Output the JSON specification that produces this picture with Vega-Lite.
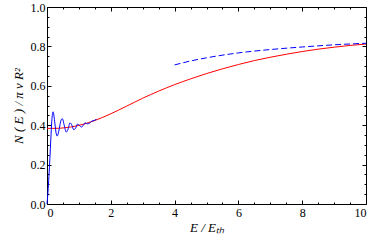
{
  "$schema": "https://vega.github.io/schema/vega-lite/v6.json",
  "width": 319,
  "height": 197,
  "autosize": {"type": "none"},
  "padding": {"left": 47, "top": 7, "right": 8, "bottom": 39},
  "background": "white",
  "config": {
    "view": {"stroke": "black", "strokeWidth": 1},
    "font": "Liberation Serif",
    "axis": {
      "domain": false,
      "grid": false,
      "tickColor": "black",
      "labelColor": "black",
      "labelFont": "Liberation Serif",
      "labelFontSize": 12,
      "titleFont": "Liberation Serif",
      "titleFontStyle": "italic",
      "titleFontWeight": "normal",
      "titleColor": "black",
      "titleFontSize": 13
    }
  },
  "datasets": {
    "red": [
      {"x": 0, "y": 0.384}, {"x": 0.25, "y": 0.384}, {"x": 0.5, "y": 0.386}, {"x": 0.75, "y": 0.391},
      {"x": 1, "y": 0.399}, {"x": 1.25, "y": 0.41}, {"x": 1.5, "y": 0.424}, {"x": 1.75, "y": 0.44},
      {"x": 2, "y": 0.458}, {"x": 2.5, "y": 0.497}, {"x": 3, "y": 0.537}, {"x": 3.5, "y": 0.573},
      {"x": 4, "y": 0.606}, {"x": 4.5, "y": 0.635}, {"x": 5, "y": 0.662}, {"x": 5.5, "y": 0.686},
      {"x": 6, "y": 0.708}, {"x": 6.5, "y": 0.728}, {"x": 7, "y": 0.745}, {"x": 7.5, "y": 0.76},
      {"x": 8, "y": 0.774}, {"x": 8.5, "y": 0.786}, {"x": 9, "y": 0.796}, {"x": 9.5, "y": 0.805},
      {"x": 10, "y": 0.812}
    ],
    "osc": [
      {"x": 0, "y": 0.0}, {"x": 0.03, "y": 0.06}, {"x": 0.06, "y": 0.14}, {"x": 0.09, "y": 0.23},
      {"x": 0.12, "y": 0.33}, {"x": 0.15, "y": 0.42}, {"x": 0.19, "y": 0.468}, {"x": 0.24, "y": 0.42},
      {"x": 0.28, "y": 0.365}, {"x": 0.32, "y": 0.345}, {"x": 0.37, "y": 0.37}, {"x": 0.43, "y": 0.42},
      {"x": 0.48, "y": 0.433}, {"x": 0.54, "y": 0.40}, {"x": 0.6, "y": 0.365}, {"x": 0.66, "y": 0.38},
      {"x": 0.72, "y": 0.412}, {"x": 0.78, "y": 0.40}, {"x": 0.84, "y": 0.377}, {"x": 0.9, "y": 0.386},
      {"x": 0.96, "y": 0.406}, {"x": 1.02, "y": 0.399}, {"x": 1.08, "y": 0.39}, {"x": 1.14, "y": 0.40},
      {"x": 1.2, "y": 0.412}, {"x": 1.27, "y": 0.407}, {"x": 1.33, "y": 0.41}, {"x": 1.4, "y": 0.42},
      {"x": 1.48, "y": 0.424}, {"x": 1.55, "y": 0.43}
    ],
    "dash": [
      {"x": 4, "y": 0.706}, {"x": 4.5, "y": 0.726}, {"x": 5, "y": 0.742}, {"x": 6, "y": 0.767},
      {"x": 7, "y": 0.784}, {"x": 8, "y": 0.797}, {"x": 9, "y": 0.808}, {"x": 10, "y": 0.816}
    ]
  },
  "layer": [
    {
      "data": {"name": "red"},
      "mark": {"type": "line", "color": "#ff0000", "strokeWidth": 1, "interpolate": "monotone"},
      "encoding": {
        "x": {
          "field": "x", "type": "quantitative",
          "scale": {"domain": [0, 10], "nice": false},
          "axis": {
            "orient": "bottom",
            "title": "E / Eₜₕ",
            "values": [0, 0.5, 1, 1.5, 2, 2.5, 3, 3.5, 4, 4.5, 5, 5.5, 6, 6.5, 7, 7.5, 8, 8.5, 9, 9.5, 10],
            "tickSize": {"condition": {"test": "datum.value % 2 === 0", "value": -4}, "value": -2},
            "labelExpr": "datum.value % 2 === 0 ? format(datum.value, 'd') : ''",
            "labelPadding": 7,
            "titlePadding": 3
          }
        },
        "y": {
          "field": "y", "type": "quantitative",
          "scale": {"domain": [0, 1], "nice": false},
          "axis": {
            "orient": "left",
            "title": "N ( E ) / π v R²",
            "values": [0, 0.05, 0.1, 0.15, 0.2, 0.25, 0.3, 0.35, 0.4, 0.45, 0.5, 0.55, 0.6, 0.65, 0.7, 0.75, 0.8, 0.85, 0.9, 0.95, 1],
            "tickSize": {"condition": {"test": "abs(datum.value * 5 - round(datum.value * 5)) < 0.001", "value": -4}, "value": -2},
            "labelExpr": "abs(datum.value * 5 - round(datum.value * 5)) < 0.001 ? format(datum.value, '.1f') : ''",
            "labelPadding": 6,
            "titlePadding": 5
          }
        }
      }
    },
    {
      "data": {"name": "osc"},
      "mark": {"type": "line", "color": "#0000ff", "strokeWidth": 1, "interpolate": "monotone"},
      "encoding": {
        "x": {
          "field": "x", "type": "quantitative",
          "axis": {
            "orient": "top", "title": null, "labels": false,
            "values": [0, 0.5, 1, 1.5, 2, 2.5, 3, 3.5, 4, 4.5, 5, 5.5, 6, 6.5, 7, 7.5, 8, 8.5, 9, 9.5, 10],
            "tickSize": {"condition": {"test": "datum.value % 2 === 0", "value": -4}, "value": -2}
          }
        },
        "y": {
          "field": "y", "type": "quantitative",
          "axis": {
            "orient": "right", "title": null, "labels": false,
            "values": [0, 0.05, 0.1, 0.15, 0.2, 0.25, 0.3, 0.35, 0.4, 0.45, 0.5, 0.55, 0.6, 0.65, 0.7, 0.75, 0.8, 0.85, 0.9, 0.95, 1],
            "tickSize": {"condition": {"test": "abs(datum.value * 5 - round(datum.value * 5)) < 0.001", "value": -4}, "value": -2}
          }
        }
      }
    },
    {
      "data": {"name": "dash"},
      "mark": {"type": "line", "color": "#0000ff", "strokeWidth": 1, "strokeDash": [6, 3], "interpolate": "monotone"},
      "encoding": {
        "x": {"field": "x", "type": "quantitative", "axis": null},
        "y": {"field": "y", "type": "quantitative", "axis": null}
      }
    }
  ],
  "resolve": {"axis": {"x": "independent", "y": "independent"}}
}
